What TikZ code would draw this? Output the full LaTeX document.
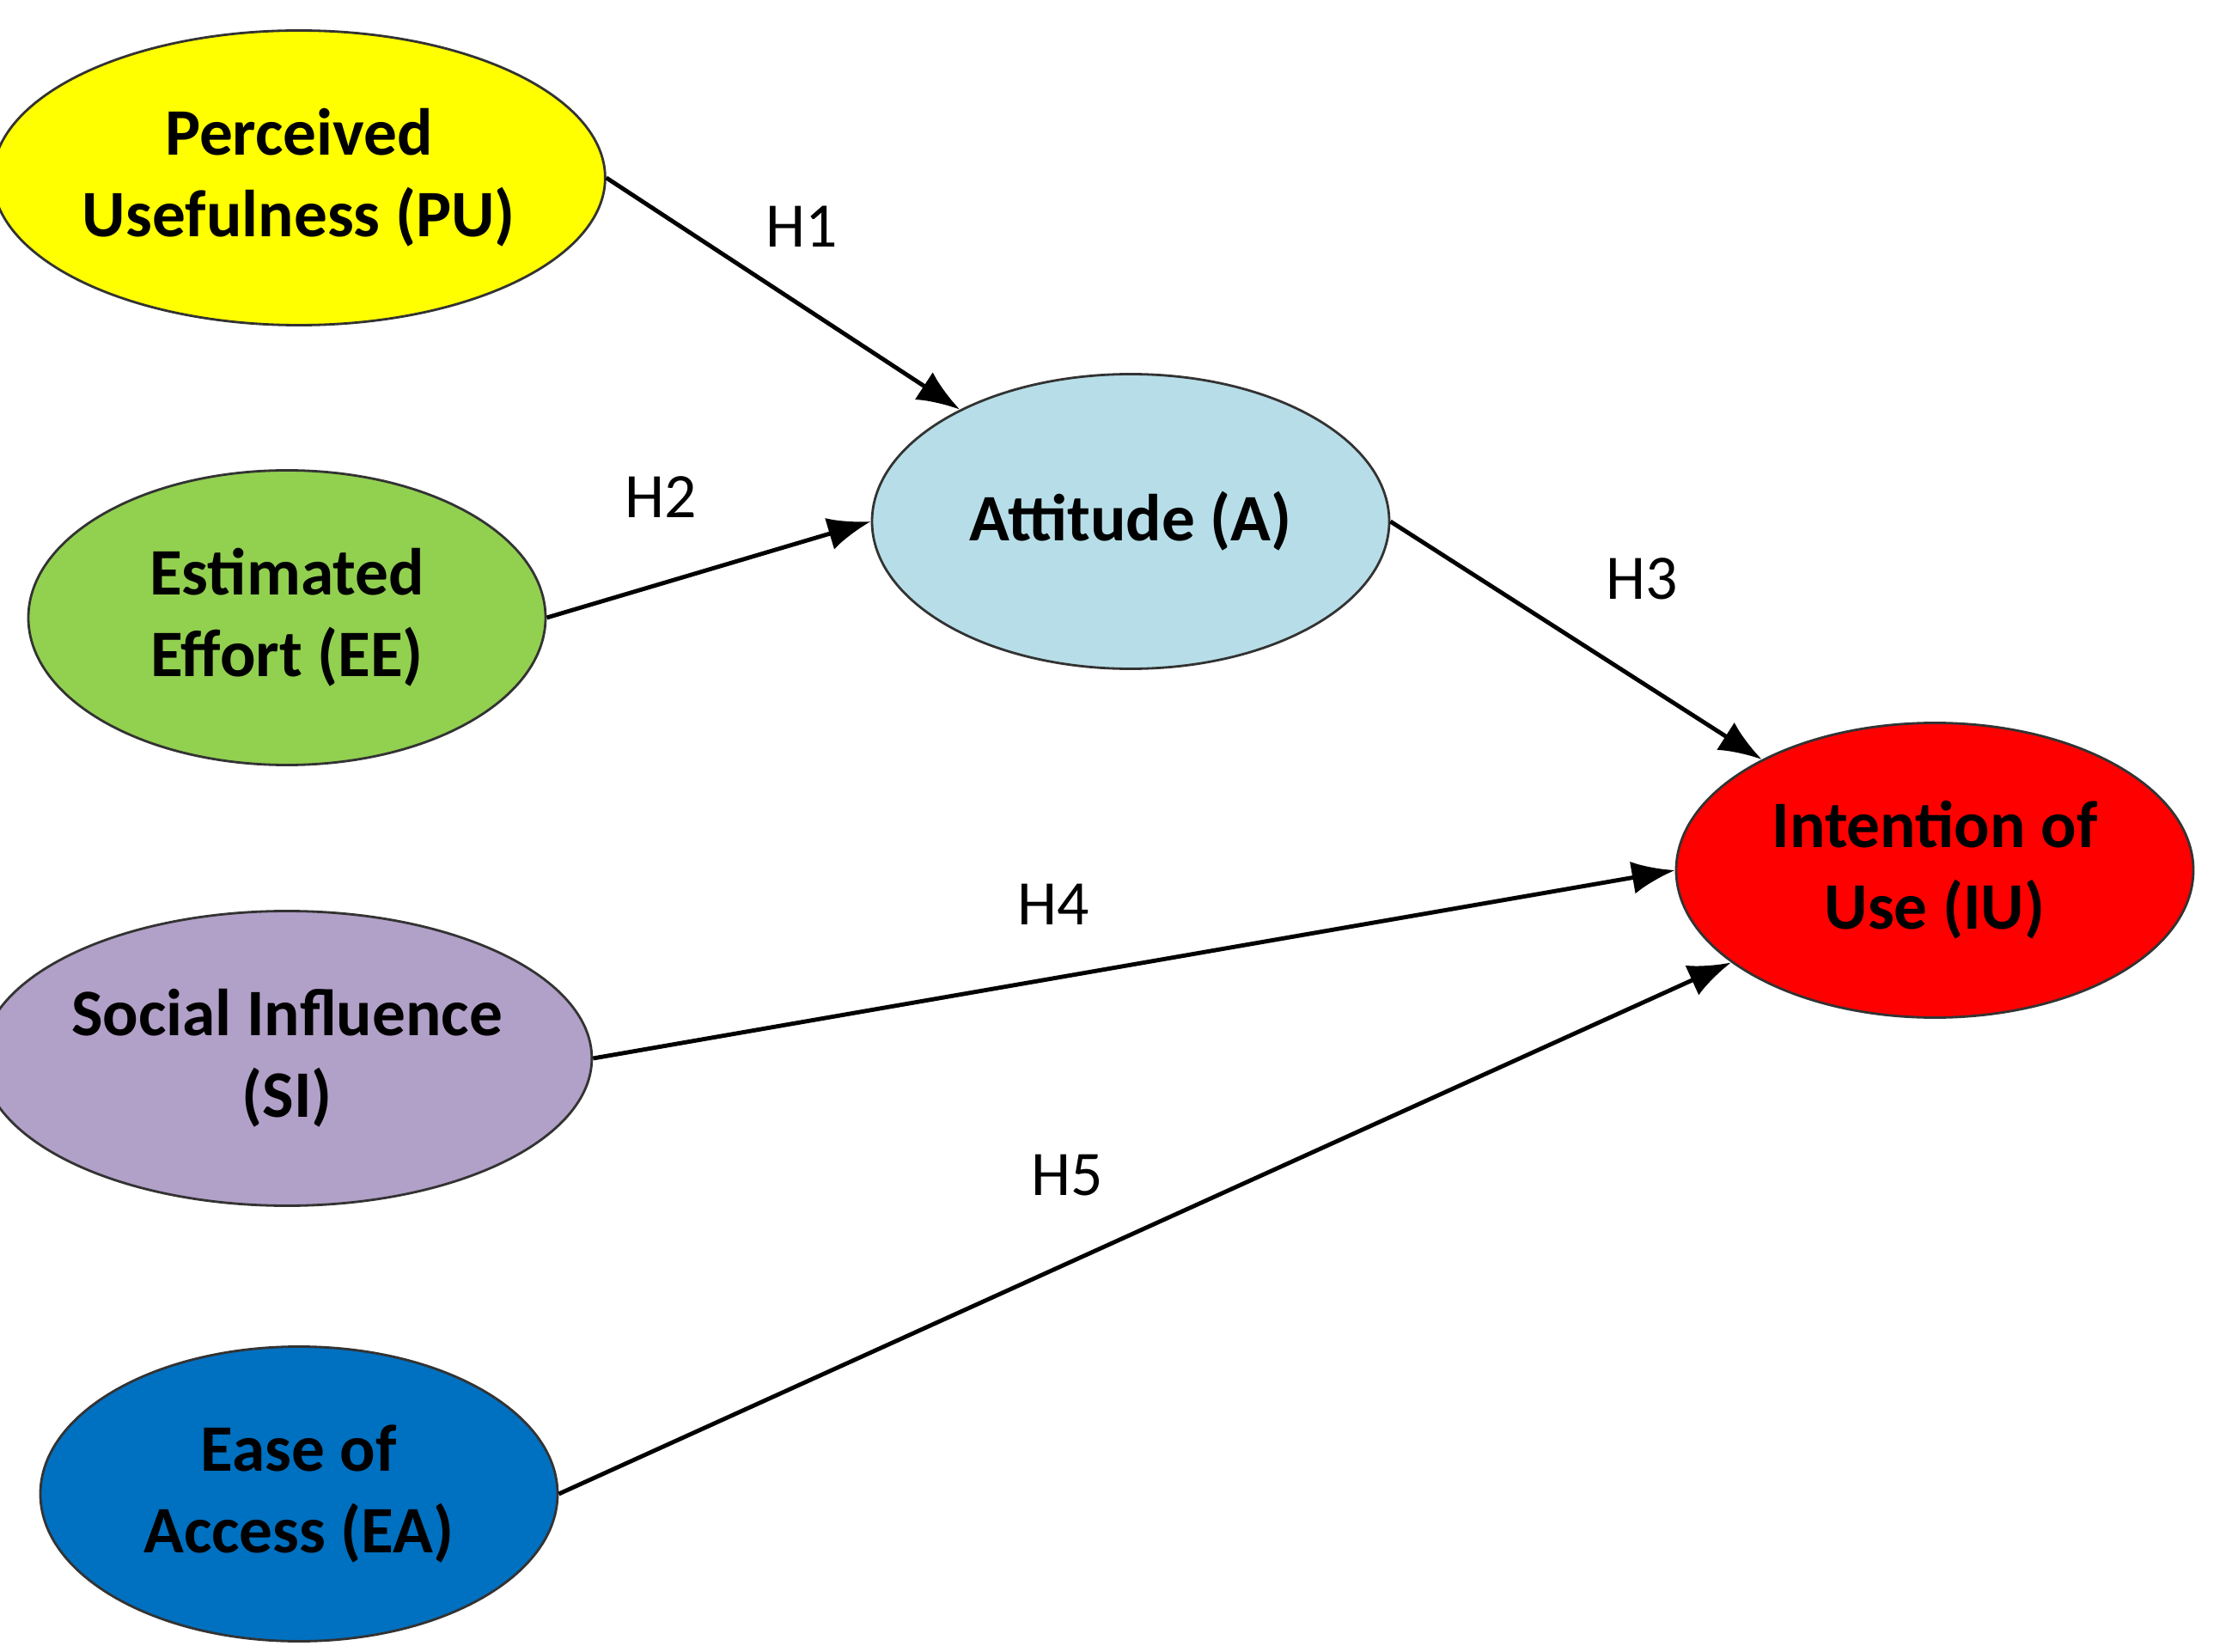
\documentclass[tikz,border=0pt]{standalone}
\usepackage{fontspec}
\setmainfont{Carlito}
\usetikzlibrary{shapes.geometric,arrows.meta}
\begin{document}
\begin{tikzpicture}[
  el/.style={ellipse,draw=black!80,line width=0.8pt,minimum width=6.02cm,minimum height=3.43cm,inner sep=0pt,align=center,font=\fontsize{22}{27}\selectfont\bfseries},
  ar/.style={line width=1.4pt,-{Latex[length=0.5cm,width=0.38cm]}},
  lb/.style={font=\fontsize{21}{25}\selectfont}]
\useasboundingbox (0,0) rectangle (25.91,-19.23);
\node[el,fill={rgb,255:red,255;green,255;blue,0}] (pu) at (3.48,-2.07) {Perceived\\Usefulness (PU)};
\node[el,fill={rgb,255:red,146;green,208;blue,80}] (ee) at (3.34,-7.19) {Estimated\\Effort (EE)};
\node[el,fill={rgb,255:red,177;green,160;blue,199}] (si) at (3.34,-12.32) {Social Influence\\(SI)};
\node[el,fill={rgb,255:red,0;green,112;blue,192}] (ea) at (3.48,-17.39) {Ease of\\Access (EA)};
\node[el,fill={rgb,255:red,183;green,222;blue,232}] (a) at (13.16,-6.07) {Attitude (A)};
\node[el,fill={rgb,255:red,255;green,0;blue,0}] (iu) at (22.52,-10.13) {Intention of\\Use (IU)};
\draw[ar] (pu.east) -- (a);
\draw[ar] (ee.east) -- (a.west);
\draw[ar] (a.east) -- (iu);
\draw[ar] (si.east) -- (iu.west);
\draw[ar] (ea.east) -- (iu);
\node[lb] (h1) at (9.33,-2.64) {H1};
\node[lb] (h2) at (7.69,-5.79) {H2};
\node[lb] (h3) at (19.11,-6.74) {H3};
\node[lb] (h4) at (12.26,-10.53) {H4};
\node[lb] (h5) at (12.42,-13.68) {H5};
\end{tikzpicture}
\end{document}
